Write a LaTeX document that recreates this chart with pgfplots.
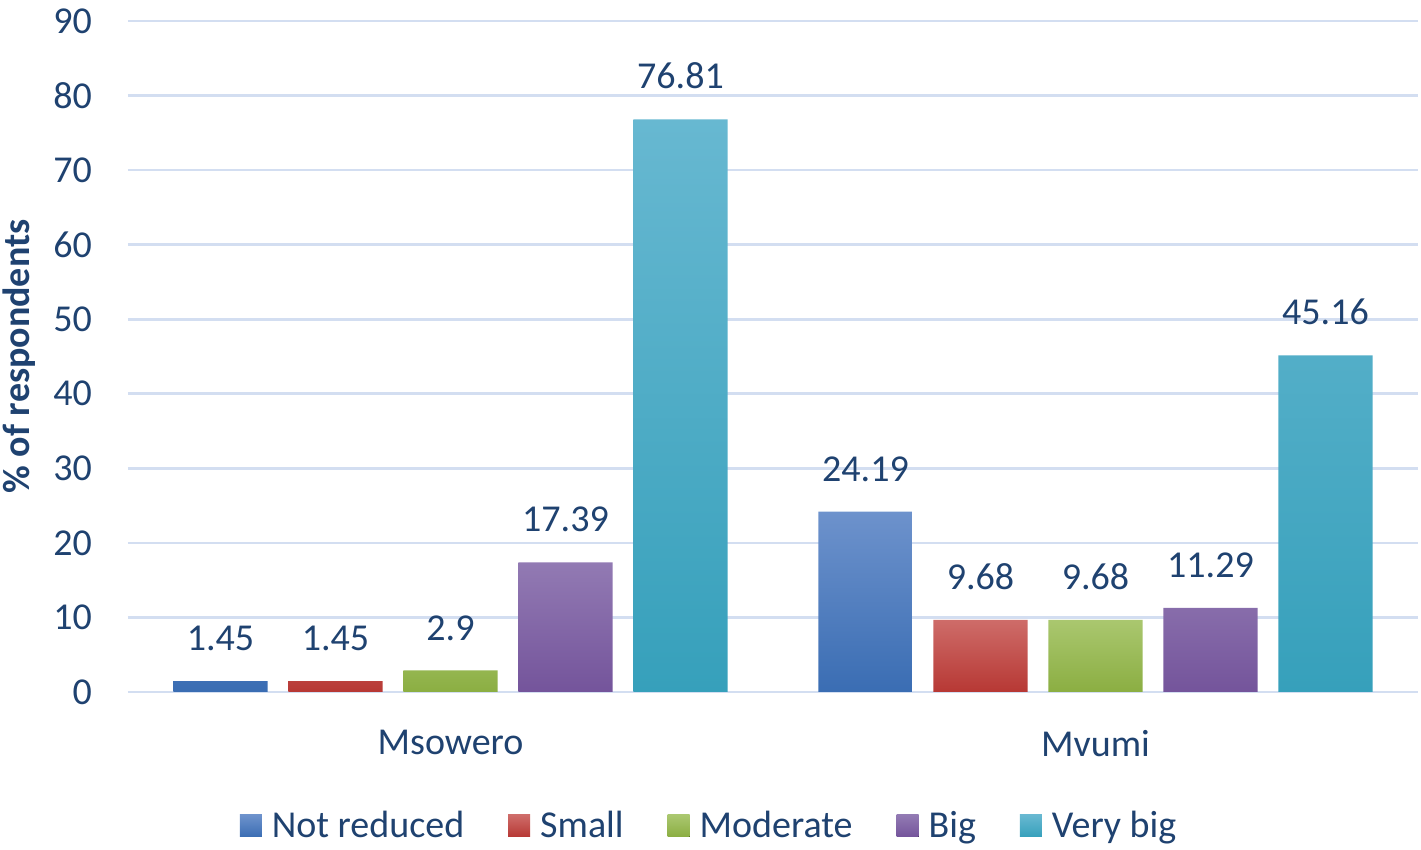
\documentclass[border=0pt]{standalone}
\usepackage{pgfplots}
\pgfplotsset{compat=1.18}
\usepackage{fontspec}
\setmainfont{Carlito}
\definecolor{txt}{HTML}{1F4270}
\definecolor{gridc}{HTML}{D3DEF1}
\definecolor{bluet}{HTML}{6D92CC}\definecolor{blueb}{HTML}{3A6DB3}
\definecolor{redt}{HTML}{CE6C69}\definecolor{redb}{HTML}{B73834}
\definecolor{greent}{HTML}{AAC76F}\definecolor{greenb}{HTML}{8BAE42}
\definecolor{purt}{HTML}{927AB3}\definecolor{purb}{HTML}{74549B}
\definecolor{aquat}{HTML}{67B8D1}\definecolor{aquab}{HTML}{36A0BB}
\begin{document}
\begin{tikzpicture}
\path[use as bounding box] (0pt,0pt) rectangle (710.5pt,425pt);
\begin{axis}[
  at={(64pt,79pt)}, anchor=south west,
  scale only axis, width=645pt, height=335.5pt,
  xmin=-0.5, xmax=1.5, ymin=0, ymax=90,
  ytick={0,10,...,90}, xtick={0,1}, xticklabels={Msowero,Mvumi},
  axis line style={draw=none}, major tick length=0pt,
  ymajorgrids, grid style={color=gridc, line width=1.3pt},
  ybar, bar width=0.146,
  font=\fontsize{19}{22}\selectfont, text=txt,
  /pgf/number format/assume math mode=true,
  yticklabel style={font=\fontsize{19}{22}\selectfont, text=txt, xshift=-14.5pt},
  xticklabel style={font=\fontsize{19}{22}\selectfont, text=txt, yshift=-15.5pt},
  ylabel={\% of respondents},
  ylabel style={at={(axis description cs:-0.084,0.5)}, anchor=center, font=\fontsize{19}{22}\selectfont\bfseries, text=txt},
  nodes near coords,
  nodes near coords style={font=\fontsize{19}{22}\selectfont, text=txt, yshift=11.5pt, /pgf/number format/.cd, fixed, precision=2, assume math mode=true},
  legend style={at={(axis description cs:0.4512,-0.1997)}, anchor=center, draw=none, fill=none,
    font=\fontsize{19}{22}\selectfont, text=txt, legend columns=-1,
    /tikz/every even column/.append style={column sep=20pt}},
  legend image code/.code={\fill[#1] (0pt,-5.5pt) rectangle (11pt,5.5pt); \path (14pt,0pt);},
]
\addplot[bar shift=-0.3566, draw=none, top color=bluet, bottom color=blueb] coordinates {(0,1.45) (1,24.19)};
\addplot[bar shift=-0.1783, draw=none, top color=redt, bottom color=redb] coordinates {(0,1.45) (1,9.68)};
\addplot[bar shift=0, draw=none, top color=greent, bottom color=greenb] coordinates {(0,2.9) (1,9.68)};
\addplot[bar shift=0.1783, draw=none, top color=purt, bottom color=purb] coordinates {(0,17.39) (1,11.29)};
\addplot[bar shift=0.3566, draw=none, top color=aquat, bottom color=aquab] coordinates {(0,76.81) (1,45.16)};
\legend{Not reduced, Small, Moderate, Big, Very big}
\end{axis}
\end{tikzpicture}
\end{document}
